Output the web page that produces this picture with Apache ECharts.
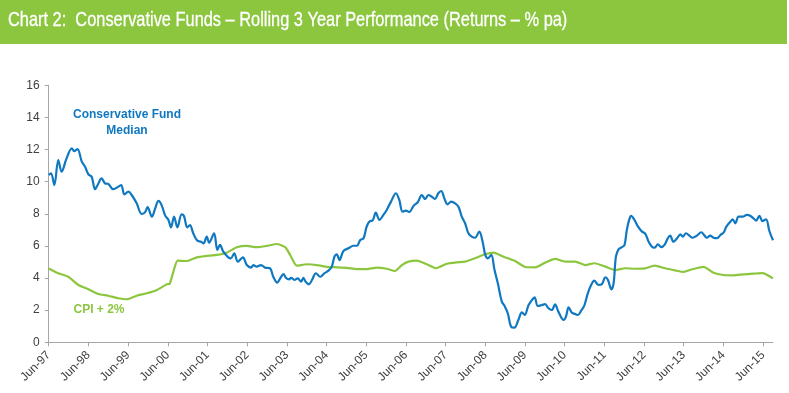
<!DOCTYPE html>
<html>
<head>
<meta charset="utf-8">
<script src="https://cdn.jsdelivr.net/npm/echarts@6/dist/echarts.min.js"></script>
<style>
html,body{margin:0;padding:0;background:#fff;}
#chart{width:789px;height:393px;}
</style>
</head>
<body>
<div id="chart"></div>
<script>
// Time axis: months since Jun-97
var tickLabels = ["Jun-97","Jun-98","Jun-99","Jun-00","Jun-01","Jun-02","Jun-03","Jun-04","Jun-05","Jun-06","Jun-07","Jun-08","Jun-09","Jun-10","Jun-11","Jun-12","Jun-13","Jun-14","Jun-15"];

// Conservative Fund Median (months since Jun-97, % pa)
var fundMonth = [0,0.7,1.7,2.9,3.9,5.4,7.0,7.7,8.7,10.0,11.0,12.0,13.0,14.0,14.8,16.0,17.0,18.0,19.5,20.6,21.9,22.9,24.1,25.1,26.6,28.1,29.1,29.9,31.2,32.2,33.2,34.2,35.2,36.2,37.0,37.9,38.9,40.2,40.9,41.9,42.7,43.7,44.9,46.1,46.8,47.8,48.5,50.0,51.0,51.8,52.8,54.3,55.1,56.1,57.2,58.7,59.9,61.2,61.9,62.9,64.2,65.4,66.9,67.9,69.1,70.0,71.0,71.7,72.7,73.3,74.3,75.3,76.3,77.0,77.7,78.7,79.6,80.8,82.1,83.4,84.6,85.6,86.4,87.1,87.9,89.1,90.6,92.1,93.2,94.2,95.2,96.2,97.2,97.9,98.9,100.0,101.2,102.2,103.5,105.0,106.0,107.0,108.0,109.0,110.3,111.6,112.8,113.8,114.8,115.8,116.8,117.8,118.7,119.6,120.6,121.7,122.9,123.9,124.9,125.9,126.9,127.9,128.9,130.2,131.2,132.0,132.8,133.8,134.8,135.8,137.0,137.8,138.8,139.8,140.8,142.0,143.1,143.9,145.1,146.1,146.9,147.9,149.1,150.1,151.1,152.1,153.1,154.1,155.7,156.4,157.2,158.2,159.2,160.0,161.0,162.0,163.0,164.0,165.0,166.2,167.3,168.3,169.1,170.1,170.8,171.5,172.3,173.3,174.1,174.8,175.5,176.1,177.1,178.2,179.4,180.4,181.4,182.4,183.2,184.2,185.2,186.2,187.2,187.9,188.9,190.0,191.0,191.7,192.7,193.7,194.7,196.0,197.3,198.3,199.0,200.0,201.0,202.1,203.1,204.1,204.9,206.1,206.8,207.6,208.6,209.8,211.1,212.1,213.1,213.9,214.9,215.8,216.9,217.9,219.0];
var fundValue = [10.42,10.52,9.79,11.35,10.62,11.45,12.08,11.9,12.03,11.25,10.93,10.46,10.31,9.53,9.79,10.21,9.9,9.86,9.53,9.63,9.79,9.21,9.38,9.17,8.65,7.99,8.09,8.41,7.82,8.34,8.8,8.51,7.9,7.62,7.16,7.82,7.16,7.97,7.86,7.16,7.3,6.79,6.33,6.26,6.16,6.58,6.2,6.79,5.75,6.06,5.64,5.29,5.23,5.54,5.02,5.29,4.81,4.65,4.81,4.71,4.81,4.65,4.61,4.08,3.71,3.98,4.25,4.02,3.92,4.02,3.88,3.98,3.77,4.02,3.77,3.61,3.88,4.3,4.08,4.3,4.46,4.71,5.33,5.48,5.12,5.68,5.85,6.01,6.01,6.37,6.48,7.24,7.55,7.57,8.07,7.62,7.93,8.24,8.76,9.28,8.86,8.13,8.2,8.11,8.49,8.72,9.17,8.92,9.17,9.07,8.92,9.28,9.42,8.97,8.59,8.76,8.65,8.44,7.82,7.41,6.79,6.58,6.51,6.89,6.26,5.44,5.23,5.44,4.5,3.67,2.53,2.28,1.81,0.97,0.91,1.39,1.87,1.7,2.32,2.63,2.8,2.26,2.32,2.38,2.12,2.01,2.36,1.91,1.39,1.6,2.18,1.84,1.76,1.7,1.97,2.32,3.05,3.57,3.84,3.57,3.63,4.05,3.88,3.3,3.67,5.33,5.79,5.92,6.06,6.99,7.62,7.88,7.62,7.2,6.89,6.75,6.26,5.95,5.89,6.1,5.92,6.06,6.48,6.64,6.26,6.48,6.72,6.58,6.79,6.64,6.51,6.64,6.85,6.64,6.51,6.64,6.51,6.48,6.68,6.85,7.2,7.51,7.66,7.41,7.82,7.82,7.93,7.88,7.72,7.57,7.88,7.55,7.66,6.93,6.35];

// CPI + 2% (months since Jun-97, % pa)
var cpiMonth = [0,2.9,5.9,9.0,12.0,15.0,18.0,21.1,23.6,26.6,29.6,32.7,35.7,36.6,37.7,39.0,41.7,44.8,47.3,50.8,53.8,56.9,59.9,62.9,65.9,69.0,71.5,73.0,75.0,78.0,81.1,84.1,87.1,90.1,93.2,96.2,99.2,102.2,104.7,106.8,108.8,111.3,114.3,117.1,120.4,123.4,125.9,128.9,131.9,134.5,137.5,141.0,144.1,147.1,150.1,153.1,156.2,159.2,162.2,165.0,168.3,171.3,174.3,177.3,180.3,183.2,186.4,189.4,191.9,194.9,198.0,201.0,204.0,207.1,210.1,213.1,215.8,219.0];
var cpiValue = [4.6,4.3,4.08,3.57,3.3,3.01,2.9,2.74,2.68,2.9,3.05,3.26,3.61,3.65,4.4,5.08,5.06,5.29,5.37,5.44,5.58,5.92,6.0,5.92,6.0,6.12,5.92,5.44,4.77,4.86,4.81,4.69,4.67,4.63,4.56,4.55,4.65,4.58,4.44,4.81,5.02,5.08,4.86,4.61,4.89,4.98,5.02,5.23,5.48,5.58,5.33,5.06,4.69,4.67,4.96,5.19,5.02,5.02,4.81,4.92,4.71,4.5,4.61,4.58,4.6,4.77,4.61,4.48,4.38,4.56,4.69,4.33,4.19,4.17,4.23,4.27,4.31,3.98];

function pairs(xs, ys){ return xs.map(function(x,i){ return [x, ys[i]]; }); }
var tickValues = tickLabels.map(function(_, i){ return i * 12; });

var chart = echarts.init(document.getElementById('chart'), null, {renderer:'canvas'});
var axisGray = '#a6a6a6';
var labelColor = '#404040';
chart.setOption({
  animation: false,
  backgroundColor: '#ffffff',
  graphic: [
    {type:'rect', left:0, top:0, shape:{width:787, height:44}, style:{fill:'#8cc63f'}},
    {type:'text', x:8, y:10, scaleX:0.78, style:{text:'Chart 2:  Conservative Funds \u2013 Rolling 3 Year Performance (Returns \u2013 % pa)', fill:'#ffffff', font:'21px "Liberation Sans", Arial, sans-serif', stroke:'#ffffff', lineWidth:0.3}},
    {type:'text', x:127, y:107, style:{text:'Conservative Fund\nMedian', fill:'#0f78c1', font:'bold 12px "Liberation Sans", Arial, sans-serif', align:'center', lineHeight:16}},
    {type:'text', x:99, y:304, style:{text:'CPI + 2%', fill:'#8cc63f', font:'bold 12px "Liberation Sans", Arial, sans-serif', align:'center'}}
  ],
  grid: {left:48.7, right:16, top:85.3, bottom:50.7, containLabel:false},
  xAxis: {
    type:'value', min:0, max:219,
    axisLine:{show:true, lineStyle:{color:axisGray, width:1}},
    axisTick:{show:true, length:4, lineStyle:{color:axisGray}, customValues: tickValues},
    splitLine:{show:false},
    axisLabel:{rotate:45, color:labelColor, fontSize:12, fontFamily:'"Liberation Sans", Arial, sans-serif', margin:11, customValues: tickValues,
      formatter:function(v){ var i = Math.round(v/12); return tickLabels[i] || ''; }}
  },
  yAxis: {
    type:'value', min:0, max:16, interval:2,
    axisLine:{show:true, lineStyle:{color:axisGray, width:1}},
    axisTick:{show:true, length:4, lineStyle:{color:axisGray}},
    splitLine:{show:false},
    axisLabel:{color:labelColor, fontSize:12, fontFamily:'"Liberation Sans", Arial, sans-serif', margin:9}
  },
  series: [
    {name:'CPI + 2%', type:'line', data:pairs(cpiMonth, cpiValue), showSymbol:false, smooth:0.2,
     lineStyle:{color:'#8cc63f', width:2.2}, itemStyle:{color:'#8cc63f'}, z:2},
    {name:'Conservative Fund Median', type:'line', data:pairs(fundMonth, fundValue), showSymbol:false, smooth:0.35,
     lineStyle:{color:'#0f78c1', width:2.2}, itemStyle:{color:'#0f78c1'}, z:3}
  ]
});
</script>
</body>
</html>
